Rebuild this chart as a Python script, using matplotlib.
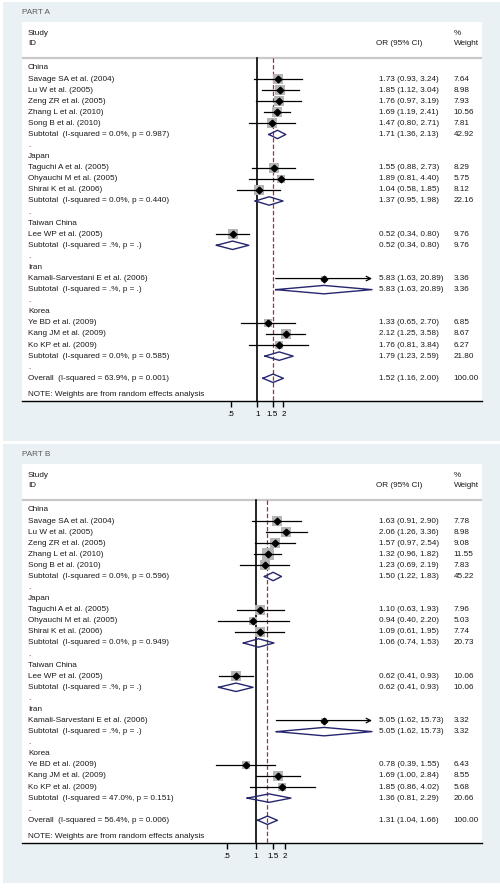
import numpy as np
import matplotlib
matplotlib.use('Agg')
import matplotlib.pyplot as plt
from matplotlib.patches import Rectangle
from matplotlib.ticker import FixedLocator, FixedFormatter, NullLocator

plt.rcParams['font.family'] = ['Liberation Sans', 'DejaVu Sans']

# studies, same in both parts
groups = ['China', 'Japan', 'Taiwan China', 'Iran', 'Korea']
n_per_group = [5, 3, 1, 1, 3]
study_names = ['Savage SA et al. (2004)', 'Lu W et al. (2005)', 'Zeng ZR et al. (2005)',
               'Zhang L et al. (2010)', 'Song B et al. (2010)',
               'Taguchi A et al. (2005)', 'Ohyauchi M et al. (2005)', 'Shirai K et al. (2006)',
               'Lee WP et al. (2005)',
               'Kamali-Sarvestani E et al. (2006)',
               'Ye BD et al. (2009)', 'Kang JM et al. (2009)', 'Ko KP et al. (2009)']

# PART A
a_or = [1.73, 1.85, 1.76, 1.69, 1.47, 1.55, 1.89, 1.04, 0.52, 5.83, 1.33, 2.12, 1.76]
a_lo = [0.93, 1.12, 0.97, 1.19, 0.80, 0.88, 0.81, 0.58, 0.34, 1.63, 0.65, 1.25, 0.81]
a_hi = [3.24, 3.04, 3.19, 2.41, 2.71, 2.73, 4.40, 1.85, 0.80, 20.89, 2.70, 3.58, 3.84]
a_w = [7.64, 8.98, 7.93, 10.56, 7.81, 8.29, 5.75, 8.12, 9.76, 3.36, 6.85, 8.67, 6.27]
a_sub_or = [1.71, 1.37, 0.52, 5.83, 1.79]
a_sub_lo = [1.36, 0.95, 0.34, 1.63, 1.23]
a_sub_hi = [2.13, 1.98, 0.80, 20.89, 2.59]
a_sub_w = [42.92, 22.16, 9.76, 3.36, 21.80]
a_sub_i2 = ['0.0%', '0.0%', '.%', '.%', '0.0%']
a_sub_p = ['0.987', '0.440', '.', '.', '0.585']
a_all = [1.52, 1.16, 2.00, 100.00]
a_all_i2, a_all_p = '63.9%', '0.001'

# PART B
b_or = [1.63, 2.06, 1.57, 1.32, 1.23, 1.10, 0.94, 1.09, 0.62, 5.05, 0.78, 1.69, 1.85]
b_lo = [0.91, 1.26, 0.97, 0.96, 0.69, 0.63, 0.40, 0.61, 0.41, 1.62, 0.39, 1.00, 0.86]
b_hi = [2.90, 3.36, 2.54, 1.82, 2.19, 1.93, 2.20, 1.95, 0.93, 15.73, 1.55, 2.84, 4.02]
b_w = [7.78, 8.98, 9.08, 11.55, 7.83, 7.96, 5.03, 7.74, 10.06, 3.32, 6.43, 8.55, 5.68]
b_sub_or = [1.50, 1.06, 0.62, 5.05, 1.36]
b_sub_lo = [1.22, 0.74, 0.41, 1.62, 0.81]
b_sub_hi = [1.83, 1.53, 0.93, 15.73, 2.29]
b_sub_w = [45.22, 20.73, 10.06, 3.32, 20.66]
b_sub_i2 = ['0.0%', '0.0%', '.%', '.%', '47.0%']
b_sub_p = ['0.596', '0.949', '.', '.', '0.151']
b_all = [1.31, 1.04, 1.66, 100.00]
b_all_i2, b_all_p = '56.4%', '0.006'

tick_vals = [0.5, 1, 1.5, 2]
tick_labels = ['.5', '1', '1.5', '2']

W, H = 500, 891
BLUE = '#e9f1f5'
NAVY = '#26266e'
RED = '#a03232'
TXT = '#1a1a1a'
FS = 5.9


def fmt_ci(e, l, h):
    return f'{e:.2f} ({l:.2f}, {h:.2f})'


def draw_panel(ax, est, lo, hi, wt, s_est, s_lo, s_hi, s_wt, s_i2, s_p, ov, ov_i2, ov_p):
    # log axis, data range put where stata puts it
    L, Hh = np.log(min(lo)), np.log(max(hi))
    f0, f1 = 0.4228, 0.7609
    sc = (Hh - L) / (f1 - f0)
    ax.set_xscale('log')
    ax.set_xlim(np.exp(L - f0 * sc), np.exp(Hh + (1 - f1) * sc))
    ybot, ytop = 30.05, -4.15
    ax.set_ylim(ybot, ytop)
    tr = ax.get_yaxis_transform()

    x_name, x_or, x_w = 0.013, 0.776, 0.9385
    ax.text(x_name, -3.13, 'Study', transform=tr, fontsize=FS, va='center', color=TXT)
    ax.text(x_name, -2.23, 'ID', transform=tr, fontsize=FS, va='center', color=TXT)
    ax.text(0.769, -2.23, 'OR (95% CI)', transform=tr, fontsize=FS, va='center', color=TXT)
    ax.text(x_w, -3.13, '%', transform=tr, fontsize=FS, va='center', color=TXT)
    ax.text(x_w, -2.23, 'Weight', transform=tr, fontsize=FS, va='center', color=TXT)
    ax.axhline(-0.9, color='#c8c8c8', lw=1.6)

    ax.plot([1, 1], [-0.9, ybot], color='black', lw=1.2, zorder=2)
    ax.plot([ov[0], ov[0]], [-0.9, ybot], color=RED, lw=0.9, dashes=(3.5, 1.8), zorder=2)

    r = 0
    k = 0
    hd = 0.38
    for g, name in enumerate(groups):
        ax.text(x_name, r, name, transform=tr, fontsize=FS, va='center', color=TXT)
        r += 1
        for _ in range(n_per_group[g]):
            ax.text(x_name, r, study_names[k], transform=tr, fontsize=FS, va='center', color=TXT)
            ax.plot(est[k], r, marker='s', ms=2.4 * np.sqrt(wt[k]), color='#b5b5b5', mew=0, zorder=3)
            if hi[k] == max(hi):
                ax.annotate('', xy=(hi[k], r), xytext=(lo[k], r),
                            arrowprops=dict(arrowstyle='->', lw=0.9, color='black',
                                            mutation_scale=8, shrinkA=0, shrinkB=0), zorder=4)
            else:
                ax.plot([lo[k], hi[k]], [r, r], color='black', lw=0.9, zorder=4)
            ax.plot(est[k], r, marker='D', ms=3.4, color='black', zorder=5)
            ax.text(x_or, r, fmt_ci(est[k], lo[k], hi[k]), transform=tr, fontsize=FS, va='center', color=TXT)
            ax.text(x_w, r, f'{wt[k]:.2f}', transform=tr, fontsize=FS, va='center', color=TXT)
            k += 1
            r += 1
        ax.text(x_name, r, f'Subtotal  (I-squared = {s_i2[g]}, p = {s_p[g]})', transform=tr,
                fontsize=FS, va='center', color=TXT)
        ax.plot([s_lo[g], s_est[g], s_hi[g], s_est[g], s_lo[g]], [r, r - hd, r, r + hd, r],
                color=NAVY, lw=1.0, zorder=4)
        ax.text(x_or, r, fmt_ci(s_est[g], s_lo[g], s_hi[g]), transform=tr, fontsize=FS, va='center', color=TXT)
        ax.text(x_w, r, f'{s_wt[g]:.2f}', transform=tr, fontsize=FS, va='center', color=TXT)
        r += 1
        ax.text(x_name, r, '.', transform=tr, fontsize=FS, va='center', color=TXT)
        r += 1

    ax.text(x_name, r, f'Overall  (I-squared = {ov_i2}, p = {ov_p})', transform=tr,
            fontsize=FS, va='center', color=TXT)
    ax.plot([ov[1], ov[0], ov[2], ov[0], ov[1]], [r, r - hd, r, r + hd, r], color=NAVY, lw=1.0, zorder=4)
    ax.text(x_or, r, fmt_ci(ov[0], ov[1], ov[2]), transform=tr, fontsize=FS, va='center', color=TXT)
    ax.text(x_w, r, f'{ov[3]:.2f}', transform=tr, fontsize=FS, va='center', color=TXT)
    ax.text(x_name, r + 1.5, 'NOTE: Weights are from random effects analysis', transform=tr,
            fontsize=FS, va='center', color=TXT)

    ax.xaxis.set_major_locator(FixedLocator(tick_vals))
    ax.xaxis.set_major_formatter(FixedFormatter(tick_labels))
    ax.xaxis.set_minor_locator(NullLocator())
    ax.tick_params(axis='x', length=4, width=1.0, pad=3, labelsize=FS, colors='black')
    ax.set_yticks([])
    for s in ['left', 'top', 'right']:
        ax.spines[s].set_visible(False)
    ax.spines['bottom'].set_linewidth(1.0)
    ax.set_facecolor('white')


fig = plt.figure(figsize=(W / 100, H / 100), dpi=100)
fig.patches.append(Rectangle((3 / W, 1 - 441 / H), 497 / W, 439 / H, transform=fig.transFigure,
                             facecolor=BLUE, edgecolor='none', zorder=-5))
fig.patches.append(Rectangle((3 / W, 1 - 883 / H), 497 / W, 439 / H, transform=fig.transFigure,
                             facecolor=BLUE, edgecolor='none', zorder=-5))
fig.text(22 / W, 1 - 12.3 / H, 'PART A', fontsize=FS, va='center', color='#5a5a5a')
fig.text(22 / W, 1 - 454 / H, 'PART B', fontsize=FS, va='center', color='#5a5a5a')

ax_a = fig.add_axes([22 / W, 1 - 401 / H, 460 / W, 379 / H])
ax_b = fig.add_axes([22 / W, 1 - 843 / H, 460 / W, 379 / H])

draw_panel(ax_a, a_or, a_lo, a_hi, a_w, a_sub_or, a_sub_lo, a_sub_hi, a_sub_w, a_sub_i2, a_sub_p,
           a_all, a_all_i2, a_all_p)
draw_panel(ax_b, b_or, b_lo, b_hi, b_w, b_sub_or, b_sub_lo, b_sub_hi, b_sub_w, b_sub_i2, b_sub_p,
           b_all, b_all_i2, b_all_p)

fig.savefig('out.png', dpi=100)
